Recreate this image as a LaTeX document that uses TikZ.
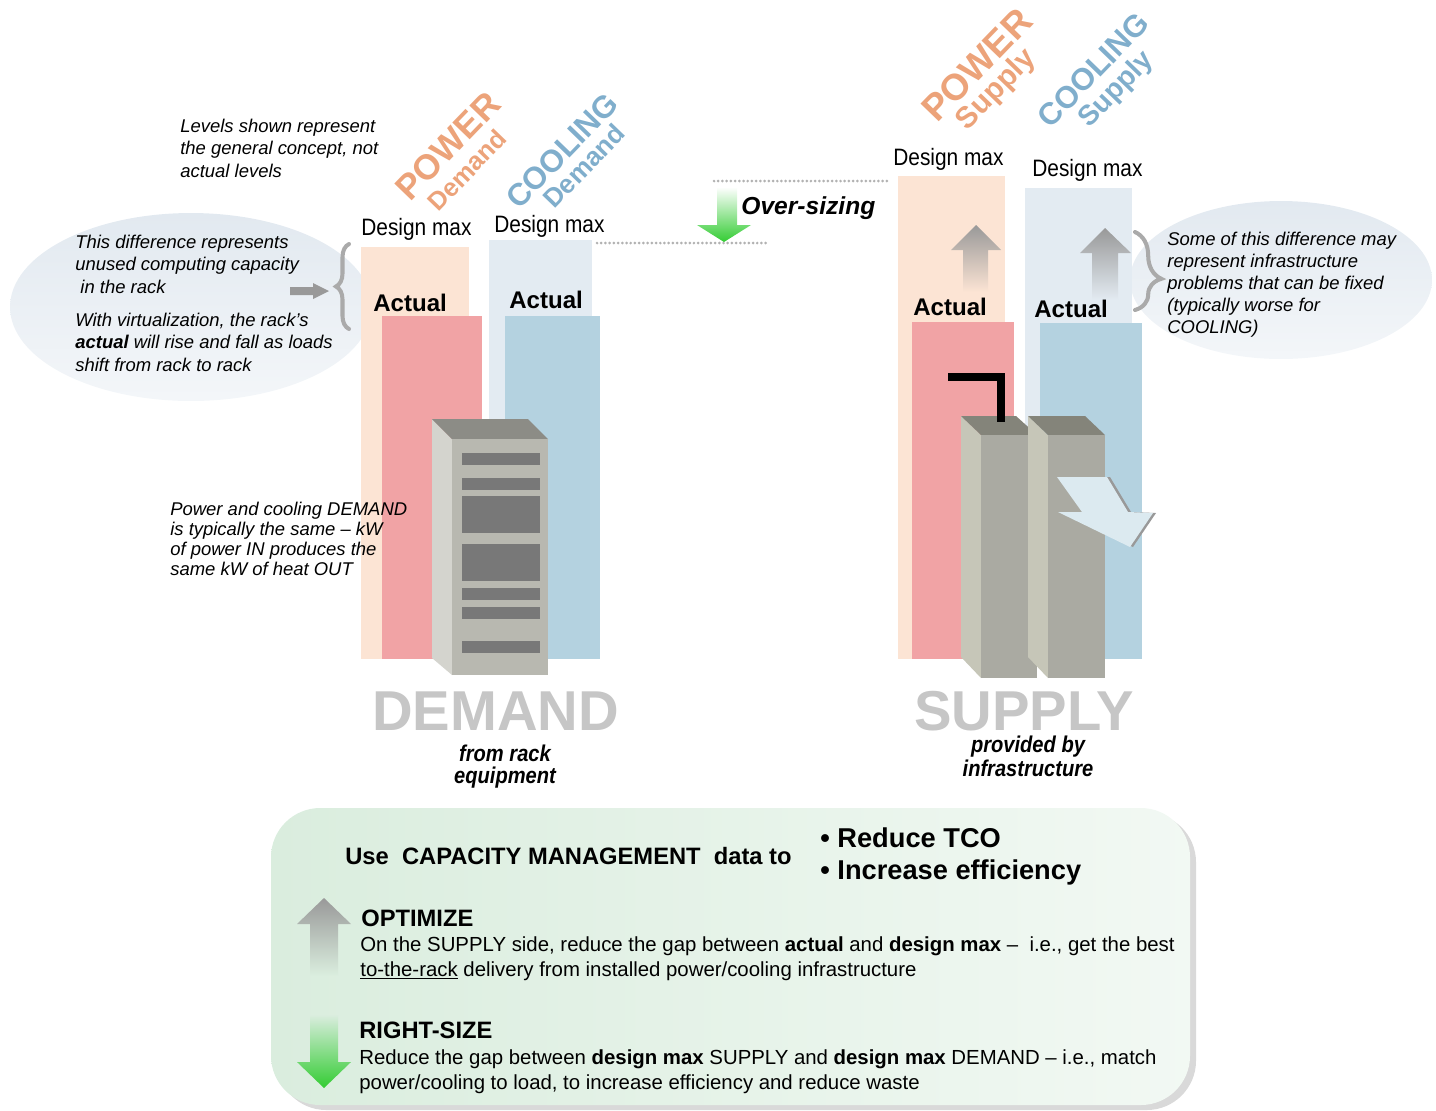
\documentclass[tikz,border=0pt]{standalone}
\usepackage{fontspec}
\setmainfont{Liberation Sans}
\newfontfamily\narrowsans[FakeStretch=0.88]{Liberation Sans}
\usepackage{tikz}
\usetikzlibrary{calc,positioning,arrows,shapes,decorations.pathreplacing}

\definecolor{peach}{RGB}{252,228,212}
\definecolor{pinkbar}{RGB}{241,163,165}
\definecolor{mistbar}{RGB}{227,235,242}
\definecolor{bluebar}{RGB}{180,210,224}
\definecolor{mistell}{RGB}{226,233,240}
\definecolor{powtxt}{RGB}{236,163,122}
\definecolor{cooltxt}{RGB}{128,174,204}
\definecolor{racktop}{RGB}{140,140,134}
\definecolor{rackside}{RGB}{212,212,206}
\definecolor{rackfront}{RGB}{184,184,176}
\definecolor{slot}{RGB}{120,120,120}
\definecolor{unittop}{RGB}{132,132,122}
\definecolor{unitside}{RGB}{198,198,184}
\definecolor{unitfront}{RGB}{170,170,162}
\definecolor{exhaust}{RGB}{220,234,240}
\definecolor{leafgreen}{RGB}{51,204,51}
\definecolor{boxgreen}{RGB}{218,237,222}
\definecolor{arrowgray}{RGB}{153,153,153}
\definecolor{bracegray}{RGB}{170,170,170}
\definecolor{bigtxt}{RGB}{198,198,198}

\tikzset{
  dmax/.style={font=\narrowsans\fontsize{13.5}{15}\selectfont, anchor=base west, inner sep=0pt},
  actual/.style={font=\bfseries\fontsize{13.7}{15}\selectfont, anchor=base west, inner sep=0pt},
  note/.style={font=\itshape\fontsize{10.5}{12.75}\selectfont, align=left, anchor=base west, inner sep=0pt},
  bigword/.style={font=\bfseries\fontsize{32}{34}\selectfont, text=bigtxt, anchor=base west, inner sep=0pt},
  subword/.style={font=\narrowsans\bfseries\itshape\fontsize{13}{12.5}\selectfont, align=center, anchor=base, inner sep=0pt},
  tag/.style={rotate=46, inner sep=0pt},
  boxtxt/.style={align=left, anchor=base west, inner sep=0pt},
  dotline/.style={draw=gray!60, line width=1.7pt, line cap=round, dash pattern=on 0pt off 2.4pt},
  bracket/.style={decorate, draw=bracegray, line width=2.3pt, line cap=round}
}

\begin{document}
\begin{tikzpicture}[x=0.02cm,y=-0.02cm]
\useasboundingbox (0,0) rectangle (1436,1110);

% note bubbles
\shade[top color=mistell, bottom color=mistell!40] (191,307) ellipse (3.62cm and 1.88cm);
\shade[top color=mistell, bottom color=mistell!40] (1281,280) ellipse (3.02cm and 1.58cm);

% demand bars
\fill[peach] (361,247) rectangle (469,659);
\fill[pinkbar] (382,316) rectangle (482,659);
\fill[mistbar] (489,240) rectangle (592,659);
\fill[bluebar] (505,316) rectangle (600,659);

% supply bars
\fill[peach] (898,176) rectangle (1005,659);
\fill[mistbar] (1025,188) rectangle (1132,659);
\fill[pinkbar] (912,322) rectangle (1014,659);
\fill[bluebar] (1040,323) rectangle (1142,659);

% rack
\fill[rackside] (432,419) -- (452,439) -- (452,675) -- (432,658) -- cycle;
\fill[racktop] (432,419) -- (528,419) -- (548,439) -- (452,439) -- cycle;
\fill[rackfront] (452,439) rectangle (548,675);
\foreach \a/\b in {453/465,478/490,496/533,544/581,588/600,607/619,641/653}
  \fill[slot] (462,\a) rectangle (540,\b);

% power and cooling units
\fill[unitside] (961,416) -- (981,435) -- (981,678) -- (961,657) -- cycle;
\fill[unittop] (961,416) -- (1016,416) -- (1037,435) -- (981,435) -- cycle;
\fill[unitfront] (981,435) rectangle (1037,678);
\fill[unitside] (1028,416) -- (1048,435) -- (1048,678) -- (1028,657) -- cycle;
\fill[unittop] (1028,416) -- (1085,416) -- (1105,435) -- (1048,435) -- cycle;
\fill[unitfront] (1048,435) rectangle (1105,678);
\draw[line width=5pt] (948,377) -- (1001,377) -- (1001,422);
\fill[arrowgray] (1060,477) -- (1110,477) -- (1131,512) -- (1156,513) -- (1133,547) -- (1061,512) -- (1085,512) -- cycle;
\fill[exhaust] (1057,477) -- (1107,477) -- (1128,512) -- (1153,513) -- (1130,547) -- (1058,512) -- (1082,512) -- cycle;

% growth arrows in supply bars
\shade[top color=arrowgray, bottom color=peach] (963,292) -- (963,250) -- (951,250) -- (976,225) -- (1001,250) -- (988,250) -- (988,292) -- cycle;
\shade[top color=arrowgray, bottom color=mistbar] (1092,300) -- (1092,253) -- (1080,253) -- (1105,228) -- (1131,253) -- (1118,253) -- (1118,300) -- cycle;

% over-sizing
\coordinate (ov1) at (714,181);
\coordinate (ov2) at (890,181);
\coordinate (ov3) at (597,243);
\coordinate (ov4) at (769,243);
\draw[dotline] (ov1) -- (ov2);
\draw[dotline] (ov3) -- (ov4);
\shade[top color=white, bottom color=leafgreen] (717,187) -- (737,187) -- (737,225) -- (751,225) -- (724,242) -- (697,225) -- (717,225) -- cycle;
\node[font=\bfseries\itshape\fontsize{14}{16}\selectfont, anchor=base west, inner sep=0pt] at (741,214) (ovs) {Over-sizing};

% braces
\coordinate (bl1) at (349,329);
\coordinate (bl2) at (349,244);
\coordinate (br1) at (1135,232);
\coordinate (br2) at (1135,310);
\draw[bracket, decoration={brace, amplitude=7.4pt}] (bl1) -- (bl2);
\draw[bracket, decoration={brace, amplitude=15pt, aspect=0.6}] (br1) -- (br2);
\fill[arrowgray] (290,287) -- (313,287) -- (313,283) -- (329,291) -- (313,299) -- (313,295) -- (290,295) -- cycle;

% labels on the bars
\node[dmax] at (361,235) (dm1) {Design max};
\node[dmax] at (494,232) (dm2) {Design max};
\node[dmax] at (893,165) (dm3) {Design max};
\node[dmax] at (1032,176) (dm4) {Design max};
\node[actual] at (373,311) (ac1) {Actual};
\node[actual] at (509,308) (ac2) {Actual};
\node[actual] at (913,315) (ac3) {Actual};
\node[actual] at (1034,317) (ac4) {Actual};

\node[tag, text=powtxt, font=\bfseries\fontsize{20}{20}\selectfont] at (448,146) (pw1) {POWER};
\node[tag, text=powtxt, font=\bfseries\fontsize{14.5}{15}\selectfont] at (467,170) (pw2) {Demand};
\node[tag, text=cooltxt, font=\bfseries\fontsize{17.8}{18}\selectfont] at (562,151) (cl1) {COOLING};
\node[tag, text=cooltxt, font=\bfseries\fontsize{15}{15}\selectfont] at (584,166) (cl2) {Demand};
\node[tag, text=powtxt, font=\bfseries\fontsize{21}{22}\selectfont] at (977,65) (pw3) {POWER};
\node[tag, text=powtxt, font=\bfseries\fontsize{17}{17}\selectfont] at (997,90) (pw4) {Supply};
\node[tag, text=cooltxt, font=\bfseries\fontsize{17.6}{18}\selectfont] at (1093,70) (cl3) {COOLING};
\node[tag, text=cooltxt, font=\bfseries\fontsize{16}{16}\selectfont] at (1117,90) (cl4) {Supply};

% side notes
\node[note] at (180,177) (n1) {Levels shown represent\\the general concept, not\\actual levels};
\node[note] at (75,293) (n2) {This difference represents\\unused computing capacity\\\ in the rack};
\node[note] at (75,371) (n3) {With virtualization, the rack’s\\\textbf{actual} will rise and fall as loads\\shift from rack to rack};
\node[note, font=\itshape\fontsize{10.5}{11.3}\selectfont] at (170,575) (n4) {Power and cooling DEMAND\\is typically the same – kW\\of power IN produces the\\same kW of heat OUT};
\node[note, font=\itshape\fontsize{10.5}{12.5}\selectfont] at (1167,333) (n5) {Some of this difference may\\represent infrastructure\\problems that can be fixed\\(typically worse for\\COOLING)};

% titles
\node[bigword] at (372,730) (dem) {DEMAND};
\node[bigword] at (914,730) (sup) {SUPPLY};
\node[subword] at (505,783) (dem2) {from rack\\equipment};
\node[subword, font=\narrowsans\bfseries\itshape\fontsize{13}{10.8}\selectfont] at (1028,776) (sup2) {provided by\\infrastructure};

% capacity management box
\fill[gray!30, rounded corners=28pt] (277,813) rectangle (1196,1110);
\shade[left color=boxgreen, right color=boxgreen!35, rounded corners=28pt] (271,808) rectangle (1190,1105);
\shade[top color=arrowgray, bottom color=boxgreen] (310,975) -- (310,924) -- (297,924) -- (324,898) -- (351,924) -- (338,924) -- (338,975) -- cycle;
\shade[top color=boxgreen, bottom color=leafgreen] (310,1015) -- (310,1062) -- (297,1062) -- (324,1088) -- (351,1062) -- (338,1062) -- (338,1015) -- cycle;

\node[boxtxt, font=\bfseries\fontsize{13.5}{15}\selectfont] at (345,864) (use) {Use\ \ CAPACITY MANAGEMENT\ \ data to};
\node[boxtxt, font=\bfseries\fontsize{15.5}{18}\selectfont] at (820,879) (goal) {• Reduce TCO\\• Increase efficiency};
\node[boxtxt, font=\bfseries\fontsize{13.5}{15}\selectfont] at (361,926) (opt) {OPTIMIZE};
\node[boxtxt, font=\fontsize{11.6}{14.2}\selectfont] at (360,976) (opt2) {On the SUPPLY side, reduce the gap between \textbf{actual} and \textbf{design max} –\ \ i.e., get the best\\\underline{to-the-rack} delivery from installed power/cooling infrastructure};
\node[boxtxt, font=\bfseries\fontsize{13.5}{15}\selectfont] at (359,1038) (rs) {RIGHT-SIZE};
\node[boxtxt, font=\fontsize{11.6}{14.2}\selectfont] at (359,1089) (rs2) {Reduce the gap between \textbf{design max} SUPPLY and \textbf{design max} DEMAND – i.e., match\\power/cooling to load, to increase efficiency and reduce waste};
\end{tikzpicture}
\end{document}
